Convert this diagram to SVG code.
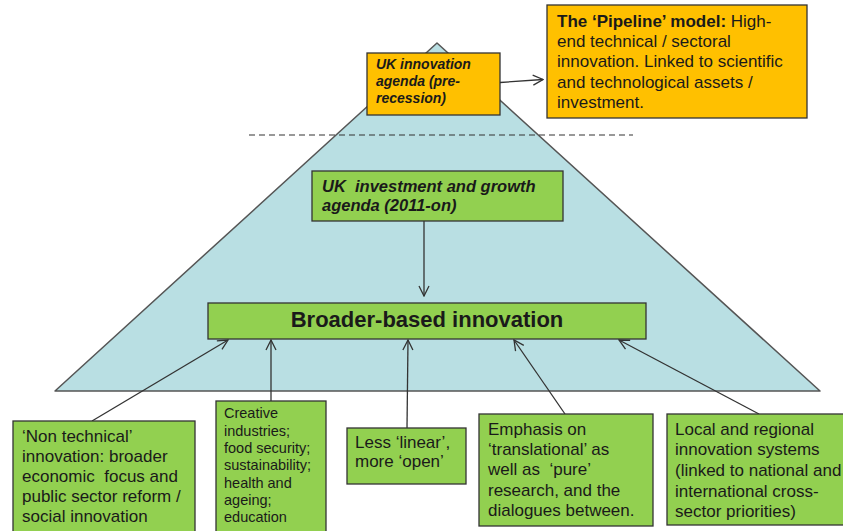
<svg xmlns="http://www.w3.org/2000/svg" width="843" height="531" viewBox="0 0 843 531">
  <style>
    text { font-family: "Liberation Sans", Arial, sans-serif; fill: #1a1a1a; }
    .box { stroke: #333; stroke-width: 1.3; }
    .orange { fill: #FFC000; }
    .green { fill: #92D050; }
    .body { font-size: 17px; }
    .small { font-size: 14.5px; }
    .ital { font-style: italic; font-weight: bold; }
    .conn { stroke: #333; stroke-width: 1.3; fill: none; marker-end: url(#open); }
  </style>
  <defs>
    <marker id="open" viewBox="0 0 12 12" refX="11" refY="6" markerWidth="12" markerHeight="12" markerUnits="userSpaceOnUse" orient="auto">
      <path d="M1,1 L11,6 L1,11" fill="none" stroke="#333" stroke-width="1.3"/>
    </marker>
  </defs>

  <!-- pyramid backdrop -->
  <polygon points="437,43 820,391 55,391" fill="#B9DFE3" stroke="#555" stroke-width="1.5" stroke-linejoin="round"/>
  <line x1="249" y1="135" x2="633" y2="135" stroke="#333" stroke-width="1.2" stroke-dasharray="6,4"/>

  <g id="connectors">
    <line class="conn" x1="500" y1="82.5" x2="543" y2="79.5"/>
    <line class="conn" x1="424" y1="221" x2="424" y2="296"/>
    <line class="conn" x1="92" y1="421" x2="228" y2="340"/>
    <line class="conn" x1="271" y1="401" x2="271" y2="340"/>
    <line class="conn" x1="407" y1="428" x2="408" y2="340"/>
    <line class="conn" x1="565" y1="414" x2="514" y2="340"/>
    <line class="conn" x1="759" y1="414" x2="619" y2="340"/>
  </g>

  <g id="uk-innovation-agenda">
    <rect class="box orange" x="367" y="53" width="133" height="62"/>
    <text class="ital" font-size="14" x="376" y="69">UK innovation</text>
    <text class="ital" font-size="14" x="376" y="86">agenda (pre-</text>
    <text class="ital" font-size="14" x="376" y="103">recession)</text>
  </g>

  <g id="pipeline-model">
    <rect class="box orange" x="547" y="5" width="260" height="113"/>
    <text class="body" x="557" y="27"><tspan font-weight="bold">The ‘Pipeline’ model:</tspan> High-</text>
    <text class="body" x="557" y="47">end technical / sectoral</text>
    <text class="body" x="557" y="67">innovation. Linked to scientific</text>
    <text class="body" x="557" y="88">and technological assets /</text>
    <text class="body" x="557" y="108">investment.</text>
  </g>

  <g id="investment-growth-agenda">
    <rect class="box green" x="312" y="171" width="251" height="50"/>
    <text class="ital" font-size="16.5" x="322" y="192" xml:space="preserve">UK  investment and growth</text>
    <text class="ital" font-size="16.5" x="322" y="211">agenda (2011-on)</text>
  </g>

  <g id="broader-based-innovation">
    <rect class="box green" x="208" y="303" width="438" height="36"/>
    <text x="427" y="327" font-size="22" font-weight="bold" text-anchor="middle">Broader-based innovation</text>
  </g>

  <g id="non-technical">
    <rect class="box green" x="13" y="421" width="182" height="115"/>
    <text class="body" x="22" y="442">‘Non technical’</text>
    <text class="body" x="22" y="462">innovation: broader</text>
    <text class="body" x="22" y="482" xml:space="preserve">economic  focus and</text>
    <text class="body" x="22" y="502">public sector reform /</text>
    <text class="body" x="22" y="522">social innovation</text>
  </g>

  <g id="creative-industries">
    <rect class="box green" x="216" y="401" width="110" height="135"/>
    <text class="small" x="224" y="418">Creative</text>
    <text class="small" x="224" y="436">industries;</text>
    <text class="small" x="224" y="453">food security;</text>
    <text class="small" x="224" y="470">sustainability;</text>
    <text class="small" x="224" y="488">health and</text>
    <text class="small" x="224" y="505">ageing;</text>
    <text class="small" x="224" y="522">education</text>
  </g>

  <g id="less-linear">
    <rect class="box green" x="347" y="428" width="119" height="56"/>
    <text class="body" x="355" y="448">Less ‘linear’,</text>
    <text class="body" x="355" y="467">more ‘open’</text>
  </g>

  <g id="translational">
    <rect class="box green" x="479" y="414" width="174" height="112"/>
    <text class="body" x="488" y="435">Emphasis on</text>
    <text class="body" x="488" y="455">‘translational’ as</text>
    <text class="body" x="488" y="475" xml:space="preserve">well as  ‘pure’</text>
    <text class="body" x="488" y="496">research, and the</text>
    <text class="body" x="488" y="516">dialogues between.</text>
  </g>

  <g id="local-regional">
    <rect class="box green" x="667" y="414" width="180" height="111"/>
    <text class="body" x="675" y="435">Local and regional</text>
    <text class="body" x="675" y="455">innovation systems</text>
    <text class="body" x="675" y="476">(linked to national and</text>
    <text class="body" x="675" y="497">international cross-</text>
    <text class="body" x="675" y="517">sector priorities)</text>
  </g>
</svg>
